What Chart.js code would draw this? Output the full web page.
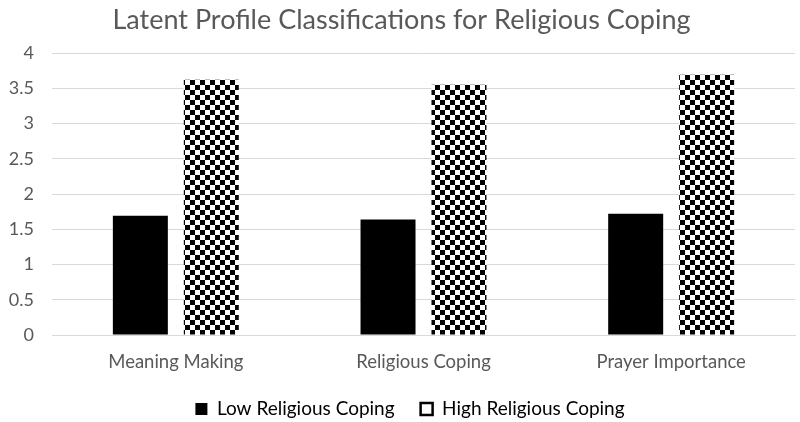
<!DOCTYPE html>
<html>
<head>
<meta charset="utf-8">
<script src="https://cdn.jsdelivr.net/npm/chart.js@4.4.0/dist/chart.umd.min.js"></script>
<style>
html,body{margin:0;padding:0;background:#fff;}
#wrap{width:800px;height:422px;position:relative;}
</style>
</head>
<body>
<div id="wrap"><canvas id="c" width="800" height="422"></canvas></div>
<script>
const categories = ["Meaning Making", "Religious Coping", "Prayer Importance"];
const lowValues = [1.69, 1.64, 1.72];
const highValues = [3.62, 3.55, 3.69];
const seriesNames = ["Low Religious Coping", "High Religious Coping"];
const titleText = "Latent Profile Classifications for Religious Coping";

function checker(cell) {
  const pc = document.createElement('canvas');
  pc.width = cell * 2; pc.height = cell * 2;
  const g = pc.getContext('2d');
  g.fillStyle = '#ffffff'; g.fillRect(0, 0, cell * 2, cell * 2);
  g.fillStyle = '#000000';
  g.fillRect(0, 0, cell, cell);
  g.fillRect(cell, cell, cell, cell);
  return document.getElementById('c').getContext('2d').createPattern(pc, 'repeat');
}
const pat = checker(5);
const FONT = "Lato, sans-serif";

const shiftBoxes = {
  id: 'shiftBoxes',
  afterLayout(chart) {
    const lg = chart.legend;
    if (lg) { lg.left += 12.5; lg.right += 12.5; }
    const tb = chart.titleBlock;
    if (tb) { tb.left += 4; tb.right += 4; }
  }
};

new Chart(document.getElementById('c'), {
  type: 'bar',
  data: {
    labels: categories,
    datasets: [
      { label: seriesNames[0], data: lowValues, backgroundColor: '#000000', borderWidth: 0 },
      { label: seriesNames[1], data: highValues, backgroundColor: pat, borderWidth: 0 }
    ]
  },
  plugins: [shiftBoxes],
  options: {
    responsive: false,
    animation: false,
    devicePixelRatio: 1,
    categoryPercentage: 0.573,
    barPercentage: 0.775,
    layout: { padding: { left: 0, right: 5, top: 0, bottom: -6.6 } },
    plugins: {
      title: {
        display: true, text: titleText, color: '#595959',
        font: { family: FONT, size: 27, weight: 'normal' },
        padding: { top: 4, bottom: 16.6 }
      },
      legend: {
        position: 'bottom',
        labels: {
          color: '#595959', font: { family: FONT, size: 19 },
          boxWidth: 12, boxHeight: 12, padding: 26,
          generateLabels: (chart) => chart.data.datasets.map((ds, i) => ({
            text: ds.label,
            fillStyle: i === 0 ? '#000000' : '#ffffff',
            strokeStyle: '#000000',
            lineWidth: i === 0 ? 0 : 2.5,
            datasetIndex: i,
            hidden: false
          }))
        }
      },
      tooltip: { enabled: false }
    },
    scales: {
      x: {
        afterFit: (s) => { s.height = 38.6; },
        grid: { display: false, drawTicks: false },
        border: { display: true, color: '#d9d9d9' },
        ticks: { color: '#595959', font: { family: FONT, size: 18.5 }, padding: 16 }
      },
      y: {
        min: 0, max: 4,
        afterFit: (s) => { s.width = 52; },
        grid: { color: '#d9d9d9', drawTicks: false },
        border: { display: false },
        ticks: { stepSize: 0.5, color: '#595959', font: { family: FONT, size: 18 }, padding: 18,
          callback: (v) => String(v) }
      }
    }
  }
});
</script>
</body>
</html>
